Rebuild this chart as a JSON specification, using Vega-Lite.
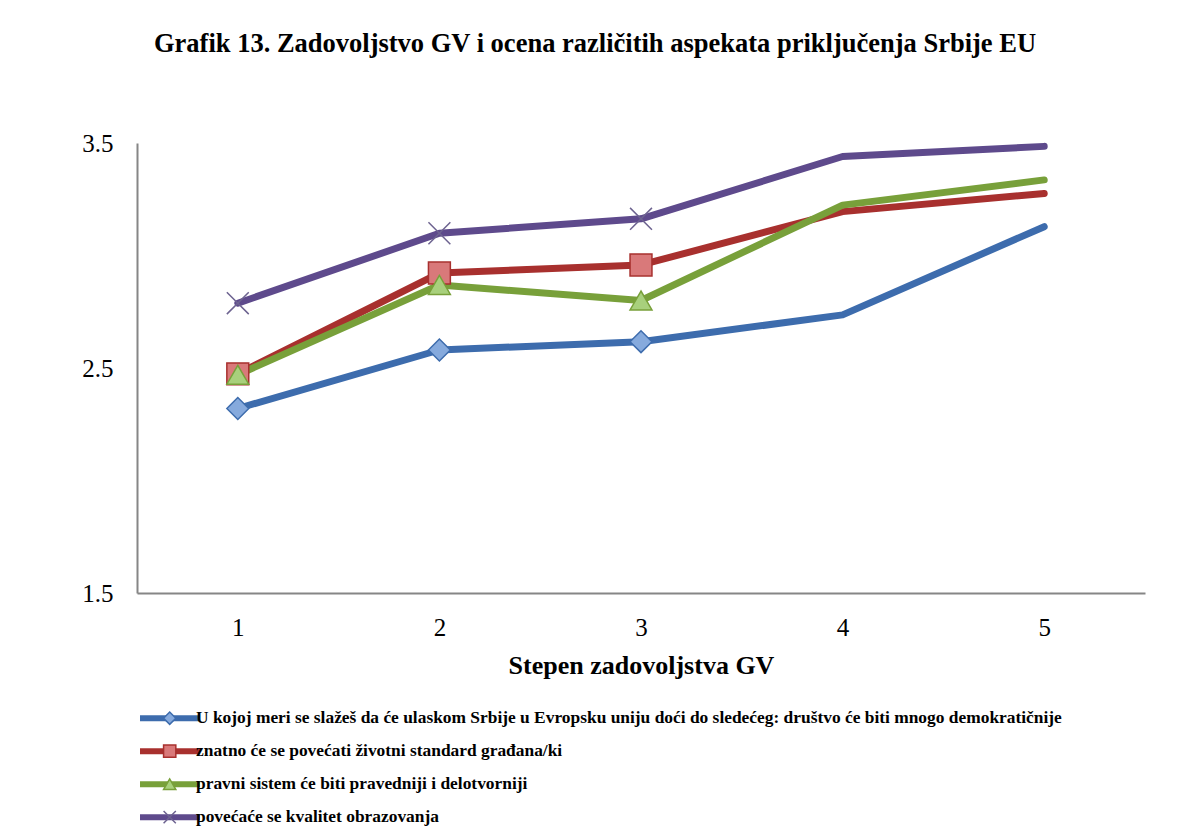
{
  "$schema": "https://vega.github.io/schema/vega-lite/v6.json",
  "width": 1008,
  "height": 450,
  "autosize": {"type": "none"},
  "padding": {"left": 137, "top": 143, "right": 45, "bottom": 234},
  "background": "white",
  "config": {"view": {"stroke": null}, "font": "Liberation Serif"},
  "title": {
    "text": "Grafik 13. Zadovoljstvo GV i ocena različitih aspekata priključenja Srbije EU",
    "fontSize": 26.5,
    "fontWeight": "bold",
    "font": "Liberation Serif",
    "color": "black",
    "anchor": "middle",
    "dx": -46,
    "offset": 74
  },
  "data": {
    "values": [
      {"s": "U kojoj meri se slažeš da će ulaskom Srbije u Evropsku uniju doći do sledećeg: društvo će biti mnogo demokratičnije", "x": 1, "y": 2.32},
      {"s": "U kojoj meri se slažeš da će ulaskom Srbije u Evropsku uniju doći do sledećeg: društvo će biti mnogo demokratičnije", "x": 2, "y": 2.58},
      {"s": "U kojoj meri se slažeš da će ulaskom Srbije u Evropsku uniju doći do sledećeg: društvo će biti mnogo demokratičnije", "x": 3, "y": 2.617},
      {"s": "U kojoj meri se slažeš da će ulaskom Srbije u Evropsku uniju doći do sledećeg: društvo će biti mnogo demokratičnije", "x": 4, "y": 2.736},
      {"s": "U kojoj meri se slažeš da će ulaskom Srbije u Evropsku uniju doći do sledećeg: društvo će biti mnogo demokratičnije", "x": 5, "y": 3.128},
      {"s": "znatno će se povećati životni standard građana/ki", "x": 1, "y": 2.474},
      {"s": "znatno će se povećati životni standard građana/ki", "x": 2, "y": 2.922},
      {"s": "znatno će se povećati životni standard građana/ki", "x": 3, "y": 2.958},
      {"s": "znatno će se povećati životni standard građana/ki", "x": 4, "y": 3.195},
      {"s": "znatno će se povećati životni standard građana/ki", "x": 5, "y": 3.276},
      {"s": "pravni sistem će biti pravedniji i delotvorniji", "x": 1, "y": 2.47},
      {"s": "pravni sistem će biti pravedniji i delotvorniji", "x": 2, "y": 2.869},
      {"s": "pravni sistem će biti pravedniji i delotvorniji", "x": 3, "y": 2.8},
      {"s": "pravni sistem će biti pravedniji i delotvorniji", "x": 4, "y": 3.224},
      {"s": "pravni sistem će biti pravedniji i delotvorniji", "x": 5, "y": 3.336},
      {"s": "povećaće se kvalitet obrazovanja", "x": 1, "y": 2.788},
      {"s": "povećaće se kvalitet obrazovanja", "x": 2, "y": 3.099},
      {"s": "povećaće se kvalitet obrazovanja", "x": 3, "y": 3.163},
      {"s": "povećaće se kvalitet obrazovanja", "x": 4, "y": 3.44},
      {"s": "povećaće se kvalitet obrazovanja", "x": 5, "y": 3.485}
    ]
  },
  "encoding": {
    "x": {
      "field": "x",
      "type": "ordinal",
      "scale": {"type": "point", "padding": 0.5},
      "axis": {
        "title": "Stepen zadovoljstva GV",
        "titleFont": "Liberation Serif",
        "titleFontSize": 26,
        "titleFontWeight": "bold",
        "titleColor": "black",
        "titlePadding": 12,
        "labelFont": "Liberation Serif",
        "labelFontSize": 25,
        "labelColor": "black",
        "labelAngle": 0,
        "labelPadding": 22,
        "ticks": false,
        "grid": false,
        "domainColor": "#868686",
        "domainWidth": 2
      }
    },
    "y": {
      "field": "y",
      "type": "quantitative",
      "scale": {"domain": [1.5, 3.5], "nice": false, "zero": false},
      "axis": {
        "title": null,
        "values": [1.5, 2.5, 3.5],
        "format": ".1f",
        "labelFont": "Liberation Serif",
        "labelFontSize": 25,
        "labelColor": "black",
        "labelPadding": 24,
        "ticks": false,
        "grid": false,
        "domainColor": "#868686",
        "domainWidth": 2
      }
    }
  },
  "layer": [
    {
      "mark": {"type": "line", "strokeWidth": 7, "strokeCap": "round", "strokeJoin": "round"},
      "encoding": {
        "color": {
          "field": "s",
          "type": "nominal",
          "sort": [
            "U kojoj meri se slažeš da će ulaskom Srbije u Evropsku uniju doći do sledećeg: društvo će biti mnogo demokratičnije",
            "znatno će se povećati životni standard građana/ki",
            "pravni sistem će biti pravedniji i delotvorniji",
            "povećaće se kvalitet obrazovanja"
          ],
          "scale": {"range": ["#3D6CAD", "#A8302E", "#78A03A", "#5E4A8C"]},
          "legend": {
            "orient": "none",
            "legendX": 0,
            "legendY": 559,
            "title": null,
            "symbolType": "M0,0H5",
            "symbolSize": 576,
            "symbolOffset": -12,
            "symbolStrokeWidth": 6,
            "labelFont": "Liberation Serif",
            "labelFontSize": 17.4,
            "labelFontWeight": "bold",
            "labelColor": "black",
            "labelLimit": 1100,
            "labelOffset": 41,
            "clipHeight": 32.4,
            "rowPadding": 0,
            "padding": 0
          }
        }
      }
    },
    {
      "transform": [{"filter": "datum.x <= 3"}],
      "mark": {"type": "point", "filled": true, "strokeWidth": 1.5, "size": 480, "opacity": 1},
      "encoding": {
        "shape": {
          "field": "s",
          "type": "nominal",
          "scale": {
            "domain": [
              "U kojoj meri se slažeš da će ulaskom Srbije u Evropsku uniju doći do sledećeg: društvo će biti mnogo demokratičnije",
              "znatno će se povećati životni standard građana/ki",
              "pravni sistem će biti pravedniji i delotvorniji",
              "povećaće se kvalitet obrazovanja"
            ],
            "range": ["diamond", "square", "triangle-up", "M-1,-1L1,1M-1,1L1,-1"]
          },
          "legend": {
            "orient": "none",
            "legendX": 24,
            "legendY": 559,
            "title": null,
            "symbolSize": 150,
            "symbolStrokeWidth": 1.5,
            "labelFontSize": 17.4,
            "labelExpr": "''",
            "clipHeight": 32.4,
            "rowPadding": 0,
            "padding": 0
          }
        },
        "fill": {
          "field": "s",
          "type": "nominal",
          "scale": {
            "domain": [
              "U kojoj meri se slažeš da će ulaskom Srbije u Evropsku uniju doći do sledećeg: društvo će biti mnogo demokratičnije",
              "znatno će se povećati životni standard građana/ki",
              "pravni sistem će biti pravedniji i delotvorniji",
              "povećaće se kvalitet obrazovanja"
            ],
            "range": ["#86AADD", "#D9797A", "#A8D07C", "transparent"]
          }
        },
        "stroke": {
          "field": "s",
          "type": "nominal",
          "scale": {
            "domain": [
              "U kojoj meri se slažeš da će ulaskom Srbije u Evropsku uniju doći do sledećeg: društvo će biti mnogo demokratičnije",
              "znatno će se povećati životni standard građana/ki",
              "pravni sistem će biti pravedniji i delotvorniji",
              "povećaće se kvalitet obrazovanja"
            ],
            "range": ["#3D6CAD", "#A8302E", "#78A03A", "#6D6390"]
          }
        }
      }
    }
  ]
}
